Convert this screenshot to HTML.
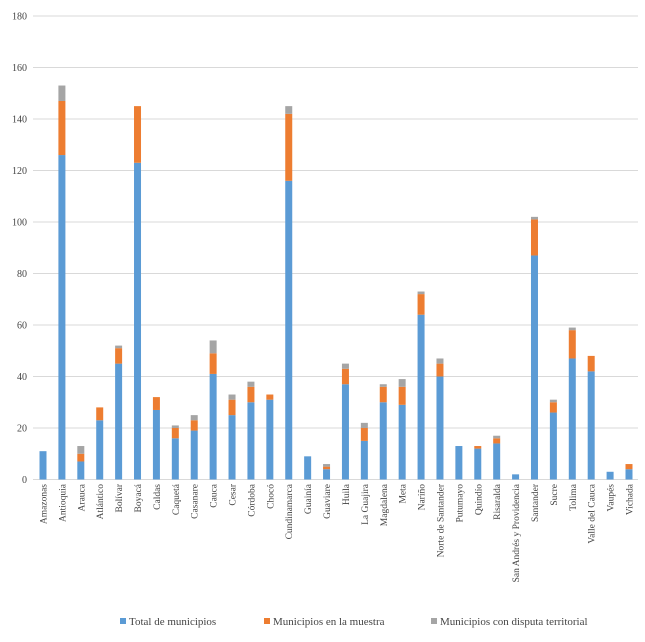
<!DOCTYPE html>
<html><head><meta charset="utf-8"><style>
html,body{margin:0;padding:0;background:#fff;}
svg text{font-family:"Liberation Serif",serif;fill:#444;}
</style></head><body>
<svg id="chart" width="645" height="637">
<g id="grid"></g>
<g id="ylab"></g>
<g id="bars"></g>
<g id="xlab"></g>
<g>
 <g><rect x="120" y="618" width="6" height="6" fill="#5b9bd5"/><text x="129" y="625" font-size="11">Total de municipios</text></g>
 <g><rect x="264" y="618" width="6" height="6" fill="#ed7d31"/><text x="273" y="625" font-size="11">Municipios en la muestra</text></g>
 <g><rect x="431" y="618" width="6" height="6" fill="#a5a5a5"/><text x="440" y="625" font-size="11">Municipios con disputa territorial</text></g>
</g>
</svg>
<script>
const categories=["Amazonas","Antioquia","Arauca","Atlántico","Bolívar","Boyacá","Caldas","Caquetá","Casanare","Cauca","Cesar","Córdoba","Chocó","Cundinamarca","Guainía","Guaviare","Huila","La Guajira","Magdalena","Meta","Nariño","Norte de Santander","Putumayo","Quindío","Risaralda","San Andrés y Providencia","Santander","Sucre","Tolima","Valle del Cauca","Vaupés","Vichada"];
const totalMunicipios=[11,126,7,23,45,123,27,16,19,41,25,30,31,116,9,4,37,15,30,29,64,40,13,12,14,2,87,26,47,42,3,4];
const enMuestra=[0,21,3,5,6,22,5,4,4,8,6,6,2,26,0,1,6,5,6,7,8,5,0,1,2,0,14,4,11,6,0,2];
const conDisputa=[0,6,3,0,1,0,0,1,2,5,2,2,0,3,0,1,2,2,1,3,1,2,0,0,1,0,1,1,1,0,0,0];
const yTicks=[0,20,40,60,80,100,120,140,160,180];
const yMax=180;
const series=[{v:totalMunicipios,c:"#5b9bd5",n:"total"},{v:enMuestra,c:"#ed7d31",n:"muestra"},{v:conDisputa,c:"#a5a5a5",n:"disputa"}];
const NS="http://www.w3.org/2000/svg";
const y0=479.5,yTop=16,xL=33,xR=638;
const y=v=>y0-(v/yMax)*(y0-yTop);
const step=(629-43)/(categories.length-1);
const x=i=>43+i*step;
const bw=7;
function mk(t,a,p){const e=document.createElementNS(NS,t);for(const k in a)e.setAttribute(k,a[k]);p.appendChild(e);return e;}
const grid=document.getElementById('grid'),ylab=document.getElementById('ylab'),bars=document.getElementById('bars'),xlab=document.getElementById('xlab');
yTicks.forEach(t=>{
 const l=mk('line',{x1:xL,x2:xR,y1:y(t),y2:y(t),stroke:'#d9d9d9','stroke-width':1},grid);
 
 
 const tx=mk('text',{x:27,y:y(t)+3.5,'text-anchor':'end','font-size':10},ylab);
 tx.textContent=t;
 
 
});
categories.forEach((c,i)=>{
 let acc=0;
 series.forEach(s=>{
  const v=s.v[i];if(!v)return;
  const r=mk('rect',{x:x(i)-bw/2,y:y(acc+v),width:bw,height:y(acc)-y(acc+v),fill:s.c},bars);
  
  
  acc+=v;
 });
 const t=mk('text',{x:0,y:0,'text-anchor':'end','font-size':9.5,transform:`translate(${x(i)+3.5},484) rotate(-90)`},xlab);
 t.textContent=c;
 
 
});
</script>
</body></html>
